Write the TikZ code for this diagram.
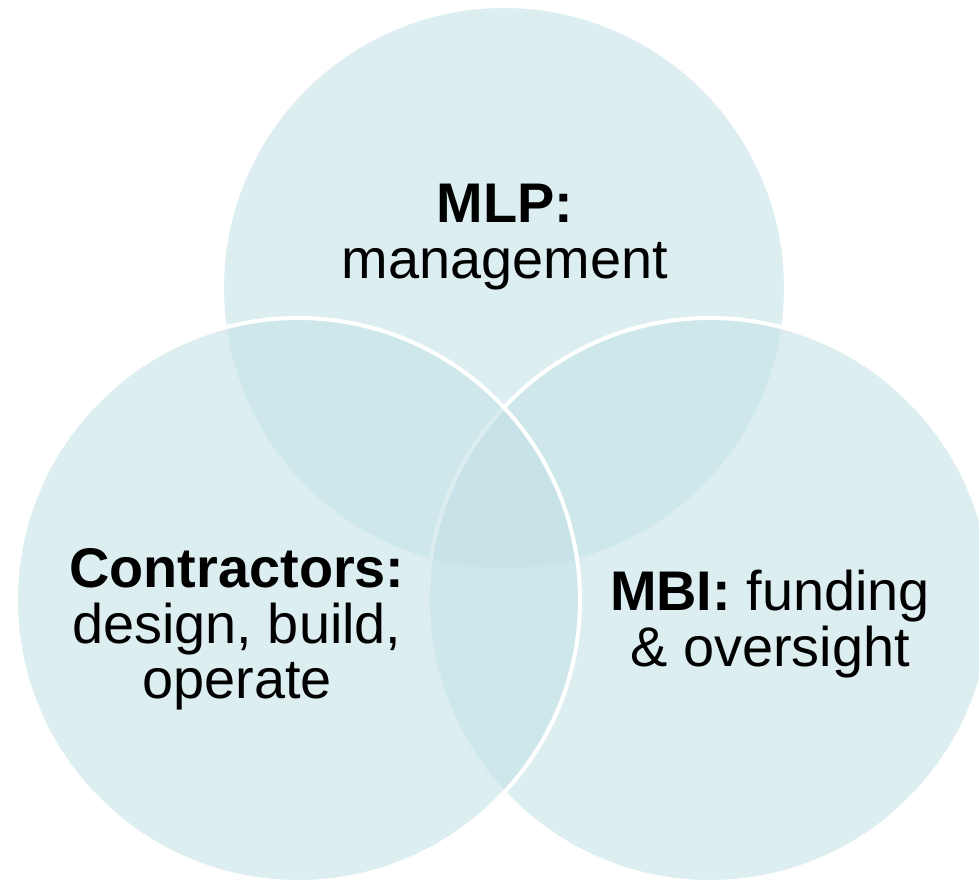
\documentclass[tikz,border=0pt]{standalone}
\usepackage{fontspec}
\setmainfont{Liberation Sans}
\definecolor{venncol}{RGB}{194,225,229}
\tikzset{
  venn/.style={fill=venncol,fill opacity=0.57,draw=white,line width=2.3pt},
  venntext/.style={align=center,inner sep=0pt,anchor=north,text=black,
    font=\fontsize{31.8}{31.7}\selectfont}
}
\begin{document}
\begin{tikzpicture}[x=0.02cm,y=-0.02cm]
  \useasboundingbox (0,0) rectangle (979,884);

  \coordinate (mlp) at (504,288);
  \coordinate (mbi) at (710,600);
  \coordinate (con) at (298,600);

  % top first, then right, left one lies over both
  \filldraw[venn] (mlp) circle[radius=282];
  \filldraw[venn] (mbi) circle[radius=282];
  \filldraw[venn] (con) circle[radius=282];

  \node[venntext] (mlptext) at (505,184) {\textbf{MLP:}\\management};
  \node[venntext] (context) at (237,548) {\textbf{Contractors:}\\design, build,\\operate};
  \node[venntext] (mbitext) at (770,570) {\textbf{MBI:} funding\\\& oversight};
\end{tikzpicture}
\end{document}
